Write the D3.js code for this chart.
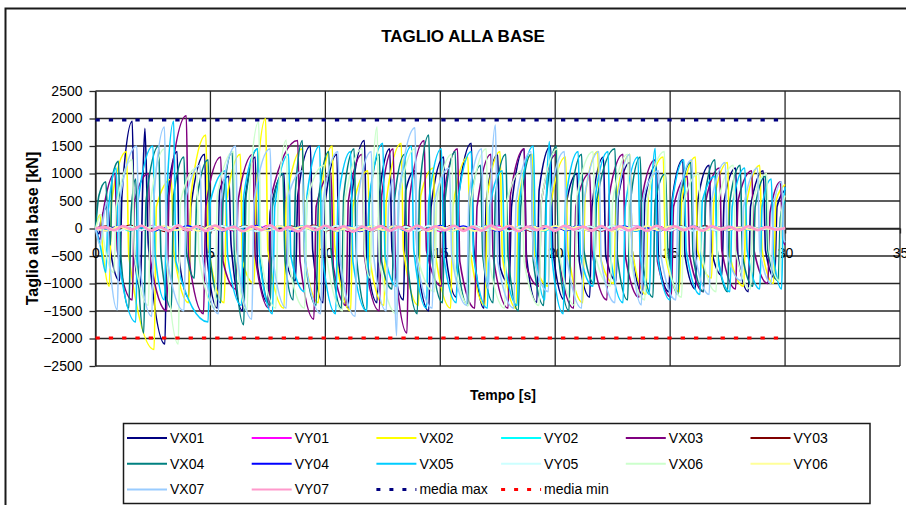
<!DOCTYPE html>
<html>
<head>
<meta charset="utf-8">
<script src="https://cdn.jsdelivr.net/npm/d3@7"></script>
<style>
  html, body { margin: 0; padding: 0; background: #fff; }
  svg { display: block; font-family: "Liberation Sans", Arial, sans-serif; }
</style>
</head>
<body>
<svg id="chart" width="906" height="505"></svg>
<script>
// Base shear time histories [kN] vs time [s]

const X_TICKS = [0, 5, 10, 15, 20, 25, 30, 35];
const Y_TICKS = [-2500, -2000, -1500, -1000, -500, 0, 500, 1000, 1500, 2000, 2500];

// X-direction histories: turning points [t (s), V (kN)]
const VX01 = [[0,0],[0.15,-100],[0.25,180],[0.55,400],[0.65,-400],[1.05,-950],
  [1.15,600],[1.6,1950],[1.7,-500],[1.95,-1100],[2.05,700],[2.15,1820],[2.3,-300],[3.02,-2100],
  [3.12,500],[3.55,1400],[3.65,-600],[4.05,-1250],[4.15,400],[4.75,1350],[4.85,-500],[5.3,-1450],
  [5.4,700],[5.8,950],[5.9,-300],[6.4,-1500],[6.5,500],[6.95,1300],[7.05,-700],[7.5,-1350],
  [7.6,300],[8.2,1000],[8.3,-600],[8.7,-950],[8.8,600],[9.35,1500],[9.45,-400],[9.9,-1350],
  [10.0,500],[10.5,1350],[10.6,-700],[11.0,-1450],[11.1,400],[11.7,1600],[11.8,-500],[12.25,-1350],
  [12.35,600],[12.8,1450],[12.9,-400],[13.4,-1300],[13.5,700],[13.9,1050],[14.0,-600],[14.5,-1500],
  [14.6,400],[15.15,1300],[15.25,-500],[15.7,-1250],[15.8,600],[16.35,1550],[16.45,-300],[16.9,-1450],
  [17.0,500],[17.5,1350],[17.6,-700],[18.0,-1000],[18.1,400],[18.65,1450],[18.75,-500],[19.2,-1350],
  [19.3,700],[19.8,1500],[19.9,-400],[20.4,-1300],[20.5,500],[20.95,1000],[21.05,-600],[21.5,-1250],
  [21.6,400],[22.1,1300],[22.2,-500],[22.65,-950],[22.75,600],[23.25,1200],[23.35,-400],[23.8,-1200],
  [23.9,500],[24.4,1150],[24.5,-600],[24.95,-1150],[25.05,400],[25.55,1250],[25.65,-500],[26.1,-1100],
  [26.2,500],[26.7,1150],[26.8,-400],[27.25,-850],[27.35,500],[27.85,1100],[27.95,-500],[28.4,-1150],
  [28.5,400],[29.05,1050],[29.15,-400],[29.55,-900],[29.65,400],[30.0,700]];

const VX02 = [[0,0],[0.2,250],[0.3,-300],[0.6,-1050],[0.7,500],[1.35,1400],[1.45,-500],[2.55,-2200],
  [2.65,400],[3.3,900],[3.4,-400],[4.05,-1350],[4.15,600],[4.8,1700],[4.9,-300],[5.6,-1350],
  [5.7,500],[6.3,1350],[6.4,-600],[6.9,-1000],[7.0,700],[7.4,2000],[7.5,-400],[8.2,-1450],
  [8.3,500],[9.0,1450],[9.1,-500],[9.7,-1350],[9.8,600],[10.3,1500],[10.4,-300],[11.1,-1500],
  [11.2,400],[11.85,1050],[11.95,-600],[12.55,-1400],[12.65,500],[13.3,1550],[13.4,-400],[14.05,-1400],
  [14.15,600],[14.7,1100],[14.8,-500],[15.45,-1450],[15.55,400],[16.2,1300],[16.3,-400],[16.95,-1400],
  [17.05,600],[17.6,1400],[17.7,-500],[18.3,-1450],[18.4,500],[19.0,1350],[19.1,-600],[19.7,-1050],
  [19.8,400],[20.45,1300],[20.55,-400],[21.2,-1350],[21.3,600],[21.85,1400],[21.95,-500],[22.55,-1000],
  [22.65,500],[23.25,1350],[23.35,-400],[23.95,-1200],[24.05,600],[24.7,1300],[24.8,-500],[25.4,-1150],
  [25.5,500],[26.1,1300],[26.2,-400],[26.8,-900],[26.9,500],[27.5,1200],[27.6,-500],[28.2,-1050],
  [28.3,400],[28.9,1150],[29.0,-400],[29.5,-1000],[29.6,500],[30.0,800]];

const VX03 = [[0,0],[0.2,-200],[0.3,200],[0.85,1000],[0.95,-400],[1.6,-1300],[1.7,500],[2.3,1000],
  [2.4,-600],[3.1,-1500],[3.2,600],[3.95,2050],[4.05,-500],[4.7,-1550],[4.8,400],[5.45,1300],
  [5.55,-600],[6.1,-1100],[6.2,500],[6.85,1350],[6.95,-500],[7.55,-1450],[7.65,600],[8.8,1600],
  [8.9,-600],[9.5,-1650],[9.6,400],[10.25,1000],[10.35,-700],[10.9,-1400],[11.0,500],[11.6,1350],
  [11.7,-500],[12.35,-1500],[12.45,600],[12.95,1450],[13.05,-700],[13.55,-1900],[13.65,500],[14.3,1600],
  [14.4,-400],[15.05,-1050],[15.15,600],[15.75,1450],[15.85,-600],[16.5,-1450],[16.6,400],[17.2,1350],
  [17.3,-500],[17.95,-1450],[18.05,600],[18.65,1450],[18.75,-700],[19.3,-1050],[19.4,500],[20.05,1350],
  [20.15,-500],[20.8,-1450],[20.9,400],[21.5,1000],[21.6,-400],[22.25,-1300],[22.35,600],[22.95,1350],
  [23.05,-500],[23.65,-1250],[23.75,500],[24.35,1250],[24.45,-600],[25.05,-1250],[25.15,400],[25.75,950],
  [25.85,-500],[26.45,-1150],[26.55,500],[27.15,1100],[27.25,-400],[27.85,-1100],[27.95,500],[28.55,1050],
  [28.65,-400],[29.25,-1000],[29.35,300],[29.8,850],[29.9,-200],[30.0,-300]];

const VX04 = [[0,0],[0.15,600],[0.45,850],[0.55,-100],[0.65,-300],[0.72,900],[1.0,1220],
  [1.1,-500],[1.45,-1450],[1.55,300],[1.75,900],[1.85,-700],[2.1,-1900],[2.2,500],[2.75,1500],
  [2.85,-500],[3.3,-1450],[3.4,600],[3.85,1300],[3.95,-400],[4.3,-900],[4.4,500],[4.9,1250],
  [5.0,-600],[5.45,-1350],[5.55,500],[5.95,1400],[6.05,-500],[6.45,-1750],[6.55,600],[7.05,1450],
  [7.15,-500],[7.6,-1400],[7.7,400],[8.15,1000],[8.25,-600],[8.6,-1300],[8.7,700],[9.0,1600],
  [9.1,-500],[9.6,-1400],[9.7,500],[10.15,1400],[10.25,-400],[10.7,-1450],[10.8,600],[11.25,1450],
  [11.35,-500],[11.8,-1500],[11.9,400],[12.35,1350],[12.45,-600],[12.9,-1100],[13.0,500],[13.45,1350],
  [13.55,-500],[14.0,-1550],[14.1,700],[14.5,1700],[14.6,-400],[15.1,-1350],[15.2,500],[15.65,1400],
  [15.75,-600],[16.2,-1400],[16.3,400],[16.75,1150],[16.85,-500],[17.3,-1350],[17.4,600],[17.85,1350],
  [17.95,-500],[18.4,-1500],[18.5,400],[18.95,1350],[19.05,-600],[19.5,-1400],[19.6,500],[20.05,1500],
  [20.15,-500],[20.6,-1500],[20.7,600],[21.15,1350],[21.25,-400],[21.7,-1000],[21.8,500],[22.6,1450],
  [22.7,-500],[23.15,-1300],[23.25,400],[23.7,1300],[23.8,-600],[24.25,-1250],[24.35,500],[24.8,1000],
  [24.9,-400],[25.35,-1200],[25.45,600],[25.9,1200],[26.0,-500],[26.45,-1150],[26.55,700],[26.95,1250],
  [27.05,-400],[27.5,-1150],[27.6,500],[28.05,1150],[28.15,-500],[28.6,-1050],[28.7,400],[29.15,950],
  [29.25,-400],[29.7,-950],[29.8,200],[30.0,500]];

const VX05 = [[0,0],[0.2,-300],[0.45,-800],[0.55,300],[0.9,1100],[1.0,-500],[1.75,-1700],
  [1.85,500],[2.5,1500],[2.6,-500],[3.0,-1300],[3.1,600],[3.4,1950],[3.5,-600],[4.9,-1700],
  [5.0,500],[5.65,1050],[5.75,-500],[6.35,-1400],[6.45,600],[7.05,1450],[7.15,-600],[7.7,-1550],
  [7.8,400],[8.4,1350],[8.5,-500],[9.1,-1150],[9.2,600],[9.75,1500],[9.85,-400],[10.45,-1550],
  [10.55,500],[11.1,1400],[11.2,-600],[11.8,-1500],[11.9,500],[12.5,1550],[12.6,-500],[13.1,-1050],
  [13.2,600],[13.75,1500],[13.85,-400],[14.4,-1450],[14.5,500],[15.05,1450],[15.15,-500],[15.7,-1350],
  [15.8,600],[16.35,1400],[16.45,-500],[17.05,-1450],[17.15,400],[17.7,1050],[17.8,-600],[18.35,-1400],
  [18.45,500],[19.05,1500],[19.15,-400],[19.55,-1300],[19.62,600],[19.75,1580],[19.85,-500],[20.35,-1550],
  [20.45,500],[21.0,1400],[21.1,-500],[21.65,-1050],[21.75,600],[22.3,1400],[22.4,-500],[22.95,-1350],
  [23.05,400],[23.6,1300],[23.7,-500],[24.1,-1200],[24.2,700],[24.35,1460],[24.45,-500],[25.0,-1300],
  [25.1,500],[25.6,1250],[25.7,-400],[26.3,-1200],[26.4,500],[26.95,950],[27.05,-500],[27.6,-1150],
  [27.7,400],[28.25,1100],[28.35,-400],[28.9,-1100],[29.0,400],[29.4,900],[29.5,-500],[29.85,-1100],
  [29.92,300],[30.0,750]];

const VX06 = [[0,0],[0.25,250],[0.35,-200],[0.8,-800],[0.9,400],[1.6,1250],[1.7,-500],[2.3,-1400],
  [2.4,500],[3.0,1450],[3.1,-600],[3.6,-2100],[3.7,500],[4.4,1100],[4.5,-500],[5.2,-1450],
  [5.3,600],[6.0,1400],[6.1,-400],[6.6,-1500],[6.7,700],[7.1,1940],[7.2,-500],[7.85,-1450],
  [7.95,600],[8.3,1610],[8.4,-600],[9.1,-1450],[9.2,500],[9.95,1150],[10.05,-500],[10.75,-1500],
  [10.85,500],[11.6,1450],[11.7,-400],[11.95,-900],[12.05,800],[12.25,1850],[12.35,-600],[13.1,-1550],
  [13.2,500],[13.9,1450],[14.0,-500],[14.75,-1150],[14.85,500],[15.5,1350],[15.6,-600],[16.25,-1400],
  [16.35,500],[17.0,1450],[17.1,-500],[17.8,-1450],[17.9,500],[18.55,1050],[18.65,-600],[19.3,-1400],
  [19.4,500],[20.1,1450],[20.2,-500],[20.85,-1400],[20.95,600],[21.65,1400],[21.75,-500],[22.4,-1050],
  [22.5,500],[23.15,1350],[23.25,-500],[23.9,-1300],[24.0,500],[24.75,1400],[24.85,-500],[25.5,-1250],
  [25.6,500],[26.25,1000],[26.35,-400],[27.0,-1150],[27.1,500],[27.75,1150],[27.85,-400],[28.5,-1100],
  [28.6,500],[29.2,1000],[29.3,-400],[29.75,-950],[29.85,300],[30.0,600]];

const VX07 = [[0,0],[0.2,-300],[0.35,200],[0.5,500],[0.6,-500],[0.95,-1480],[1.05,500],[1.8,1500],
  [1.9,-600],[2.45,-1600],[2.55,600],[3.0,1845],[3.1,-500],[3.85,-1500],[3.95,600],[4.55,1150],
  [4.65,-500],[5.35,-1550],[5.45,500],[6.1,1500],[6.2,-600],[6.8,-1650],[6.9,500],[7.6,1450],
  [7.7,-500],[8.3,-1450],[8.4,600],[9.0,1050],[9.1,-500],[9.8,-1550],[9.9,500],[10.55,1400],
  [10.65,-600],[11.3,-1600],[11.4,500],[12.0,1400],[12.1,-500],[12.65,-1500],[12.75,400],[12.95,900],
  [13.0,-700],[13.1,-1950],[13.2,600],[13.9,1830],[14.0,-600],[14.65,-1450],[14.75,500],[15.4,1100],
  [15.5,-500],[16.15,-1400],[16.25,600],[16.8,1450],[16.9,-500],[17.1,-1100],[17.2,700],[17.4,1880],
  [17.5,-600],[18.2,-1450],[18.3,500],[18.95,1400],[19.05,-500],[19.7,-1150],[19.8,600],[20.4,1400],
  [20.5,-500],[21.15,-1450],[21.25,500],[21.9,1400],[22.0,-600],[22.6,-1350],[22.7,500],[23.25,1350],
  [23.35,-500],[23.75,-1390],[23.85,600],[24.5,1050],[24.6,-500],[25.25,-1300],[25.35,500],[25.95,1250],
  [26.05,-400],[26.7,-1200],[26.8,500],[27.4,1200],[27.5,-500],[28.1,-950],[28.2,400],[28.8,1100],
  [28.9,-400],[29.4,-1000],[29.5,400],[29.85,850],[29.95,-200],[30.0,-250]];

// Y-direction histories: values [kN] on an even time grid from 0 to 30 s
const VY01 = [0,30,-40,25,-35,50,-20,40,-45,30,-25,45,-40,35,-30,50,-45,20,-35,40,
  -30,45,-50,30,-20,35,-40,50,-30,25,-45,40,-35,30,-25,45,-40,35,-30,20,
  -45,50,-35,30,-40,25,-30,45,-20,35,-40,30,-25,40,-35,20,-30,25,-20,15,0];
const VY02 = [0,-25,35,-40,20,-45,30,-35,50,-25,40,-30,45,-50,25,-35,40,-20,45,-40,
  30,-45,35,-25,50,-40,20,-35,45,-30,40,-50,25,-30,45,-35,30,-40,20,-45,
  35,-30,50,-25,40,-35,30,-45,25,-40,35,-20,30,-35,25,-30,20,-25,15,-10,0];
const VY03 = [0,40,-20,55,-30,35,-50,25,-40,45,-35,30,-25,50,-45,35,-30,40,-20,55,
  -40,25,-35,45,-50,30,-25,40,-45,35,-30,50,-20,45,-40,25,-35,30,-50,40,
  -25,45,-30,35,-40,50,-20,30,-45,25,-35,40,-30,45,-25,35,-20,30,-15,10,0];
const VY04 = [0,-35,45,-25,40,-50,30,-20,45,-40,35,-45,25,-30,50,-35,40,-45,30,-25,
  45,-40,35,-50,20,-30,45,-35,25,-40,50,-30,40,-25,35,-45,30,-40,45,-20,
  30,-35,50,-45,25,-30,40,-35,20,-45,35,-30,40,-25,30,-35,25,-20,15,-10,0];
const VY05 = [0,25,-45,35,-30,40,-25,50,-35,30,-40,45,-20,35,-50,30,-45,25,-35,40,
  -30,50,-25,45,-40,20,-35,30,-45,50,-25,35,-40,45,-30,25,-50,40,-35,30,
  -20,45,-40,35,-25,50,-30,40,-45,20,-35,30,-40,25,-30,35,-20,25,-15,10,0];
const VY06 = [0,-40,30,-25,50,-35,45,-30,20,-45,40,-35,25,-50,30,-40,45,-20,35,-30,
  50,-45,25,-35,40,-30,45,-25,35,-50,30,-40,20,-45,35,-30,50,-25,40,-35,
  45,-20,30,-40,35,-50,25,-30,45,-35,40,-25,30,-35,20,-30,25,-20,10,-15,0];
const VY07 = [0,20,-30,45,-20,50,-40,30,-50,60,-30,40,-45,55,-25,35,-50,40,-30,60,
  -40,25,-55,45,-30,50,-20,40,-60,35,-25,45,-40,30,-50,55,-30,40,-35,50,
  -45,30,-40,55,-25,45,-50,35,-30,40,-45,50,-20,35,-40,45,-30,40,-35,30,
  -45,50,-25,40,-30,35,-40,45,-20,30,-35,40,-30,25,-20,10];

// Mean of peak values, drawn as reference lines
const MEDIA_T = [0, 29.7];
const MEDIA_MAX = 1975;
const MEDIA_MIN = -1992;

const SERIES_NAMES = ["VX01","VY01","VX02","VY02","VX03","VY03","VX04","VY04",
  "VX05","VY05","VX06","VY06","VX07","VY07"];
const SERIES_COLORS = ["#000080","#FF00FF","#FFFF00","#00FFFF","#800080","#800000","#008080","#0000FF",
  "#00CCFF","#CCFFFF","#CCFFCC","#FFFF99","#99CCFF","#FF99CC"];

const T_END = 30;
const evenGrid = vals => vals.map((v, i) => [i * T_END / (vals.length - 1), v]);

const seriesData = {
  VX01, VX02, VX03, VX04, VX05, VX06, VX07,
  VY01: evenGrid(VY01), VY02: evenGrid(VY02), VY03: evenGrid(VY03), VY04: evenGrid(VY04),
  VY05: evenGrid(VY05), VY06: evenGrid(VY06), VY07: evenGrid(VY07)
};

const svg = d3.select("#chart");

// outer chart frame
svg.append("rect")
  .attr("x", 5.5).attr("y", 8.5).attr("width", 1000).attr("height", 600)
  .attr("fill", "#fff").attr("stroke", "#1a1a1a").attr("stroke-width", 2);

const x = d3.scaleLinear().domain([0, 35]).range([95.5, 900]);
const y = d3.scaleLinear().domain([-2500, 2500]).range([366, 91]);

// title
svg.append("text")
  .attr("x", 463).attr("y", 42)
  .attr("text-anchor", "middle")
  .attr("font-size", 17).attr("font-weight", "bold")
  .text("TAGLIO ALLA BASE");

// grid
const grid = svg.append("g").attr("stroke", "#262626").attr("stroke-width", 1.3);
grid.selectAll("line.h").data(Y_TICKS).join("line")
  .attr("x1", x(0)).attr("x2", x(35))
  .attr("y1", d => y(d)).attr("y2", d => y(d));
grid.selectAll("line.v").data(X_TICKS).join("line")
  .attr("y1", y(2500)).attr("y2", y(-2500))
  .attr("x1", d => x(d)).attr("x2", d => x(d));

// y axis
const yAxis = svg.append("g")
  .attr("transform", `translate(${x(0)},0)`)
  .call(d3.axisLeft(y).tickValues(Y_TICKS).tickFormat(d3.format("d"))
    .tickSizeInner(6).tickSizeOuter(0).tickPadding(7));
yAxis.select(".domain").attr("stroke", "#262626").attr("stroke-width", 1.3);
yAxis.selectAll(".tick line").attr("stroke", "#262626").attr("stroke-width", 1.3);
yAxis.selectAll("text").attr("font-size", 14).attr("fill", "#000")
  .attr("font-family", "'Liberation Sans', Arial, sans-serif");

// x axis through zero
const xAxis = svg.append("g")
  .attr("transform", `translate(0,${y(0)})`)
  .call(d3.axisBottom(x).tickValues(X_TICKS).tickFormat(d3.format("d"))
    .tickSizeInner(5).tickSizeOuter(0).tickPadding(15));
xAxis.select(".domain").attr("stroke", "#262626").attr("stroke-width", 1.3);
xAxis.selectAll(".tick line").attr("stroke", "#262626").attr("stroke-width", 1.3);
xAxis.selectAll("text").attr("font-size", 14).attr("fill", "#000")
  .attr("font-family", "'Liberation Sans', Arial, sans-serif");

// series
const line = d3.line()
  .x(d => x(d[0])).y(d => y(d[1]))
  .curve(d3.curveMonotoneX);

const plot = svg.append("g");
SERIES_NAMES.forEach((name, i) => {
  const isY = name.startsWith("VY");
  plot.append("path")
    .datum(seriesData[name])
    .attr("fill", "none")
    .attr("stroke", SERIES_COLORS[i])
    .attr("stroke-width", name === "VY07" ? 2.6 : (isY ? 2 : 1.6))
    .attr("stroke-linejoin", "round")
    .attr("d", line);
});

// mean peak lines
const mediaLine = d3.line().x(d => x(d[0])).y(d => y(d[1]));
[[MEDIA_MAX, "#000080"], [MEDIA_MIN, "#FF0000"]].forEach(([v, c]) => {
  plot.append("path")
    .datum(MEDIA_T.map(t => [t, v]))
    .attr("fill", "none").attr("stroke", c)
    .attr("stroke-width", 3).attr("stroke-dasharray", "4.3,9")
    .attr("d", mediaLine);
});

// axis titles
svg.append("text")
  .attr("transform", `translate(38,${y(0)}) rotate(-90)`)
  .attr("text-anchor", "middle")
  .attr("font-size", 16).attr("font-weight", "bold")
  .text("Taglio alla base [kN]");
svg.append("text")
  .attr("x", 503).attr("y", 400)
  .attr("text-anchor", "middle")
  .attr("font-size", 14).attr("font-weight", "bold")
  .text("Tempo [s]");

// legend
const legendItems = SERIES_NAMES.map((n, i) => ({ name: n, color: SERIES_COLORS[i], dash: null }))
  .concat([{ name: "media max", color: "#000080", dash: "4,9" },
           { name: "media min", color: "#FF0000", dash: "4,9" }]);

svg.append("rect")
  .attr("x", 123.5).attr("y", 423.5).attr("width", 746.5).attr("height", 80)
  .attr("fill", "#fff").attr("stroke", "#1a1a1a").attr("stroke-width", 1.5);

const legend = svg.append("g");
legendItems.forEach((d, i) => {
  const col = i % 6, row = Math.floor(i / 6);
  const lx = 127 + col * 124.7;
  const ly = 438 + row * 25.7;
  legend.append("line")
    .attr("x1", lx).attr("x2", lx + 40).attr("y1", ly).attr("y2", ly)
    .attr("stroke", d.color)
    .attr("stroke-width", d.dash ? 3 : 2)
    .attr("stroke-dasharray", d.dash);
  legend.append("text")
    .attr("x", lx + 43).attr("y", ly)
    .attr("dy", "0.35em")
    .attr("font-size", 14)
    .text(d.name);
});
</script>
</body>
</html>
